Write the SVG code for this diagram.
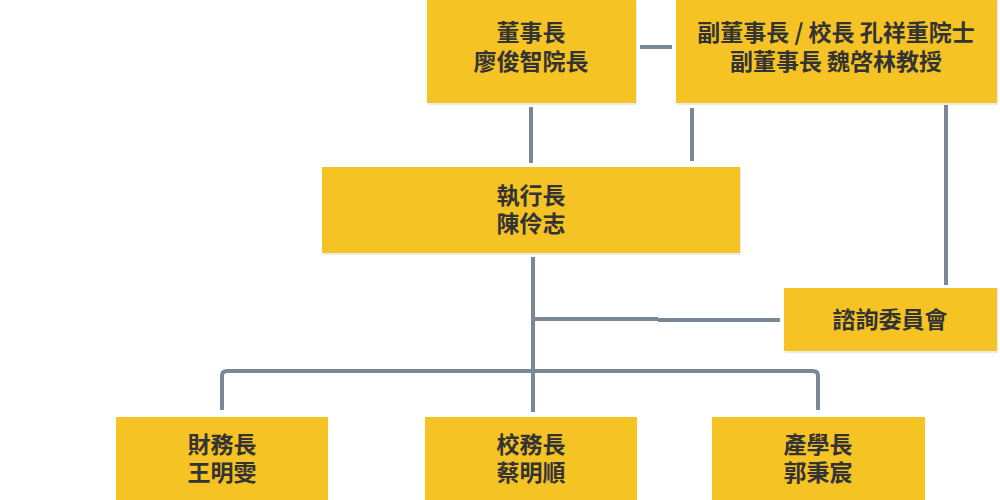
<svg xmlns="http://www.w3.org/2000/svg" width="1000" height="500" viewBox="0 0 1000 500">
<defs>
<style>
.box{fill:#F6C325;}
.sh{fill:#000;opacity:0.08;}
.t{font-family:"Noto Sans CJK TC","Noto Sans CJK SC",sans-serif;font-weight:bold;font-size:23px;fill:#333333;text-anchor:middle;}
.c{stroke:#7A8896;stroke-width:4;fill:none;}
</style>
</defs>
<rect width="1000" height="500" fill="#fff"/>
<g id="connectors">
<line class="c" x1="640" y1="47" x2="672" y2="47"/>
<line class="c" x1="531" y1="107" x2="531" y2="163"/>
<line class="c" x1="692" y1="108" x2="692" y2="161"/>
<line class="c" x1="946" y1="105" x2="946" y2="285"/>
<line class="c" x1="533" y1="257" x2="533" y2="412"/>
<line class="c" x1="533" y1="319" x2="658" y2="319"/>
<line class="c" x1="658" y1="320" x2="780" y2="320"/>
<path class="c" d="M222,410 V376 Q222,371 227,371 H813 Q818,371 818,376 V410"/>
</g>
<g id="chair">
<rect class="sh" x="428" y="1" width="209" height="104"/>
<rect class="box" x="427" y="0" width="209" height="103"/>
<text class="t" x="531" y="41">董事長</text>
<text class="t" x="531" y="70">廖俊智院長</text>
</g>
<g id="vice">
<rect class="sh" x="677" y="1" width="321" height="104"/>
<rect class="box" x="676" y="0" width="321" height="103"/>
<text class="t" x="836" y="41">副董事長 / 校長 孔祥重院士</text>
<text class="t" x="836" y="70">副董事長 魏啓林教授</text>
</g>
<g id="ceo">
<rect class="sh" x="323" y="168" width="418" height="87"/>
<rect class="box" x="322" y="167" width="418" height="86"/>
<text class="t" x="531" y="204">執行長</text>
<text class="t" x="531" y="232">陳伶志</text>
</g>
<g id="advisory">
<rect class="sh" x="785" y="289" width="213" height="64"/>
<rect class="box" x="784" y="288" width="213" height="63"/>
<text class="t" x="890" y="328">諮詢委員會</text>
</g>
<g id="cfo">
<rect class="box" x="116" y="417" width="212" height="83"/>
<text class="t" x="222" y="453">財務長</text>
<text class="t" x="222" y="481">王明雯</text>
</g>
<g id="provost">
<rect class="box" x="425" y="417" width="212" height="83"/>
<text class="t" x="531" y="453">校務長</text>
<text class="t" x="531" y="481">蔡明順</text>
</g>
<g id="industry">
<rect class="box" x="712" y="417" width="213" height="83"/>
<text class="t" x="818" y="453">產學長</text>
<text class="t" x="818" y="481">郭秉宸</text>
</g>
</svg>
